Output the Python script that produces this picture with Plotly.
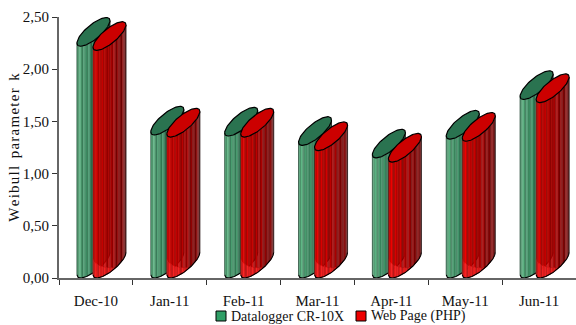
import numpy as np
import plotly.graph_objects as go

months = ["Dec-10", "Jan-11", "Feb-11", "Mar-11", "Apr-11", "May-11", "Jun-11"]
datalogger = [2.22, 1.37, 1.36, 1.27, 1.15, 1.33, 1.71]
web_page = [2.18, 1.35, 1.35, 1.22, 1.11, 1.31, 1.68]
series_names = ["Datalogger CR-10X", "Web Page (PHP)"]
series_swatches = ["#2f9e66", "#ee0000"]

CYL_WIDTH = 0.447      # category units
CYL_DEPTH = 0.275      # value units spanned by the tilted ellipse
PHI = 0.68             # opening of the ellipse
N_STRIPES = 26
STRIPE_SHADE = [1.0, 0.84, 1.1, 0.92, 0.78, 1.06, 0.9]


def lower_edge(xn):
    """Height of the ellipse's front edge at normalised position xn in [0, 1]."""
    t = np.arccos(1 - 2 * xn)
    return CYL_DEPTH / 2 * (1 - np.cos(t - PHI))


def ellipse(cx, base):
    t = np.linspace(0, 2 * np.pi, 90)
    return cx - CYL_WIDTH / 2 * np.cos(t), base + CYL_DEPTH / 2 * (1 - np.cos(t - PHI))


def rgb(c, k=1.0):
    return "rgb({},{},{})".format(*[int(min(255, v * k)) for v in c])


def ramp(stops, u):
    pos = np.linspace(0, 1, len(stops))
    return [float(np.interp(u, pos, [s[i] for s in stops])) for i in range(3)]


def add_poly(fig, xs, ys, fill, line=None, width=0):
    fig.add_trace(go.Scatter(
        x=xs, y=ys, mode="lines", fill="toself", fillcolor=fill,
        line=dict(color=line or fill, width=width if line else 0.3),
        showlegend=False, hoverinfo="skip"))


def add_cylinder(fig, center, offset, value, stops, cap, glow=None):
    left = center + offset
    edges = np.linspace(0, 1, N_STRIPES + 1)
    for i in range(N_STRIPES):
        xn = np.linspace(edges[i], edges[i + 1], 5)
        xs = left + xn * CYL_WIDTH
        low = lower_edge(xn)
        u = (i + 0.5) / N_STRIPES
        shade = STRIPE_SHADE[i % len(STRIPE_SHADE)]
        add_poly(fig,
                 np.r_[xs, xs[::-1], xs[0]],
                 np.r_[low, low[::-1] + value, low[0]],
                 rgb(ramp(stops, u), shade))
        # paler reflection running along the foot of the cylinder
        band = 0.16 * max(0.0, 1 - u / 0.7)
        if glow and band > 0:
            add_poly(fig,
                     np.r_[xs, xs[::-1], xs[0]],
                     np.r_[low, low[::-1] + band, low[0]],
                     rgb(glow, shade))

    # silhouette: front edge and the two sides
    xn = np.linspace(0, 1, 60)
    low = lower_edge(xn)
    fig.add_trace(go.Scatter(
        x=left + xn * CYL_WIDTH, y=low, mode="lines",
        line=dict(color="black", width=1.1), showlegend=False, hoverinfo="skip"))
    fig.add_trace(go.Scatter(
        x=[left, left], y=[low[0], low[0] + value], mode="lines",
        line=dict(color="rgba(20,40,30,0.75)", width=0.8), showlegend=False, hoverinfo="skip"))
    fig.add_trace(go.Scatter(
        x=[left + CYL_WIDTH] * 2, y=[low[-1], low[-1] + value], mode="lines",
        line=dict(color="rgba(20,20,20,0.8)", width=0.9), showlegend=False, hoverinfo="skip"))

    ex, ey = ellipse(left + CYL_WIDTH / 2, value)
    add_poly(fig, ex, ey, cap, "black", 1.2)


GREEN_STOPS = [(96, 178, 130), (66, 148, 104), (52, 128, 90), (42, 112, 80), (36, 98, 70)]
RED_STOPS = [(240, 8, 8), (220, 0, 0), (205, 0, 0), (195, 0, 0), (180, 0, 0),
             (160, 0, 0), (140, 5, 5), (125, 5, 5), (150, 50, 50)]

fig = go.Figure()
for i, (a, b) in enumerate(zip(datalogger, web_page)):
    add_cylinder(fig, i, -0.257, a, GREEN_STOPS, "#2a7350")
    add_cylinder(fig, i, -0.040, b, RED_STOPS, "#cc0000", (240, 40, 40))

# Key below the plot: a small square and a label for each series, placed in page pixels
W, H = 576, 325
KEY_LEFT = [216, 356]
KEY_SIZE = 10
KEY_Y = 316
for name, swatch, px in zip(series_names, series_swatches, KEY_LEFT):
    fig.add_shape(type="rect", xref="paper", yref="paper", layer="above",
                  x0=(px - 59) / (W - 59), x1=(px + KEY_SIZE - 59) / (W - 59),
                  y0=(278 - KEY_Y - KEY_SIZE / 2) / 261, y1=(278 - KEY_Y + KEY_SIZE / 2) / 261,
                  fillcolor=swatch, line=dict(color="black", width=1))
    fig.add_annotation(xref="paper", yref="paper", showarrow=False,
                       x=(px + KEY_SIZE + 3 - 59) / (W - 59), xanchor="left",
                       y=(278 - KEY_Y) / 261, yanchor="middle",
                       text=name, font=dict(family="Liberation Serif", size=14, color="#111111"))

hair = "\u200a"
y_title = "  ".join(hair.join(word) for word in ["Weibull", "parameter", "k"])

fig.update_layout(
    width=W, height=H,
    margin=dict(l=59, r=0, t=17, b=47),
    paper_bgcolor="white", plot_bgcolor="white",
    separators=", ",
    font=dict(family="Liberation Serif", size=15, color="#111111"),
    showlegend=False,
    xaxis=dict(
        range=[-0.5, 6.5], tickmode="array", tickvals=list(range(len(months))),
        ticktext=months, ticks="", showgrid=False, zeroline=False,
        showline=True, linecolor="#666666", linewidth=2, ticklabelstandoff=8,
        minor=dict(tick0=-0.5, dtick=1, ticks="outside", ticklen=5, tickwidth=1,
                   tickcolor="#333333", showgrid=False)),
    yaxis=dict(
        range=[0, 2.5], tickmode="array", tickvals=[0, 0.5, 1, 1.5, 2, 2.5],
        tickformat=".2f", ticks="outside", ticklen=5, tickwidth=1, tickcolor="#333333",
        showgrid=False, zeroline=False, showline=True, linecolor="#666666", linewidth=2,
        automargin=True,
        title=dict(text=y_title, standoff=0,
                   font=dict(family="Liberation Serif", size=15))),
)
fig.write_html("out.html")
